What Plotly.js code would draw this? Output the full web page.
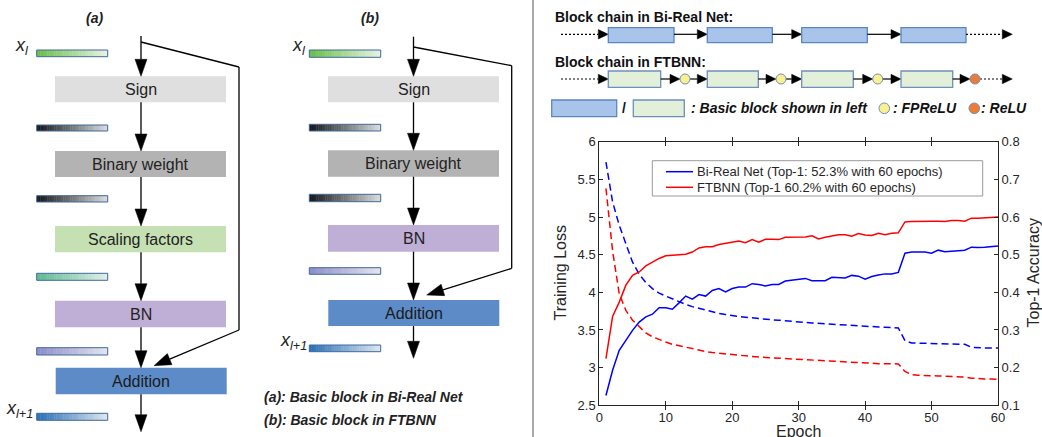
<!DOCTYPE html>
<html><head><meta charset="utf-8">
<script src="https://cdn.plot.ly/plotly-3.0.1.min.js"></script>
<style>html,body{margin:0;padding:0;background:#fff;overflow:hidden}</style>
</head><body><div id="chart" style="width:1042px;height:437px"></div>
<script>
// ---------------- data ----------------
const epochs = [1,2,3,4,5,6,7,8,9,10,11,12,13,14,15,16,17,18,19,20,21,22,23,24,25,26,27,28,29,30,
  31,32,33,34,35,36,37,38,39,40,41,42,43,44,45,46,47,48,49,50,51,52,53,54,55,56,57,58,59,60];
const birealAcc = [0.126,0.193,0.246,0.273,0.299,0.321,0.335,0.342,0.359,0.359,0.355,0.372,0.390,0.382,0.394,0.390,0.405,0.410,0.401,0.410,
  0.414,0.414,0.423,0.421,0.417,0.421,0.421,0.430,0.432,0.434,0.437,0.431,0.431,0.431,0.440,0.440,0.438,0.445,0.443,0.435,
  0.442,0.446,0.449,0.449,0.453,0.504,0.507,0.507,0.507,0.504,0.512,0.508,0.509,0.511,0.512,0.520,0.519,0.520,0.521,0.523];
const ftbnnAcc = [0.224,0.336,0.374,0.419,0.445,0.454,0.470,0.481,0.490,0.497,0.499,0.499,0.501,0.507,0.518,0.521,0.521,0.527,0.530,0.534,
  0.536,0.532,0.540,0.533,0.541,0.541,0.540,0.546,0.546,0.546,0.547,0.550,0.542,0.546,0.550,0.553,0.553,0.549,0.556,0.552,
  0.551,0.557,0.553,0.557,0.558,0.587,0.588,0.589,0.589,0.589,0.589,0.588,0.591,0.591,0.589,0.597,0.597,0.598,0.598,0.600];
const birealLoss = [5.73,5.20,4.89,4.63,4.40,4.24,4.13,4.05,3.99,3.95,3.91,3.87,3.84,3.81,3.785,3.76,3.74,3.72,3.705,3.69,
  3.68,3.67,3.66,3.65,3.64,3.635,3.63,3.625,3.62,3.61,3.60,3.593,3.587,3.58,3.573,3.566,3.562,3.558,3.553,3.549,
  3.545,3.54,3.537,3.535,3.527,3.36,3.327,3.325,3.323,3.321,3.319,3.317,3.314,3.312,3.31,3.27,3.261,3.261,3.26,3.26];
const ftbnnLoss = [5.38,4.55,3.98,3.76,3.63,3.54,3.46,3.41,3.37,3.34,3.31,3.29,3.265,3.245,3.23,3.215,3.20,3.19,3.18,3.17,
  3.16,3.155,3.15,3.14,3.135,3.13,3.125,3.12,3.115,3.106,3.10,3.093,3.088,3.084,3.08,3.075,3.07,3.066,3.062,3.058,
  3.055,3.053,3.053,3.051,3.049,2.95,2.907,2.90,2.894,2.892,2.889,2.887,2.885,2.88,2.876,2.86,2.852,2.85,2.848,2.845];
const seriesNames = ['Bi-Real Net (Top-1: 52.3% with 60 epochs)', 'FTBNN (Top-1 60.2% with 60 epochs)'];
const xTicks = [0,10,20,30,40,50,60];
const lossTicks = [2.5,3,3.5,4,4.5,5,5.5,6];
const accTicks = [0.1,0.2,0.3,0.4,0.5,0.6,0.7,0.8];

// ---------------- helpers (pixel -> paper) ----------------
const W = 1042, H = 437;
const FONT = 'Liberation Sans, Arial, sans-serif';
const X = x => x / W, Y = y => 1 - y / H;
const shapes = [], ann = [];
function rect(x0,y0,x1,y1,fill,lc,lw){
  shapes.push({type:'rect',xref:'paper',yref:'paper',x0:X(x0),x1:X(x1),y0:Y(y1),y1:Y(y0),
    fillcolor:fill,line:{color:lc||'rgba(0,0,0,0)',width:lw||0}});
}
function line(x0,y0,x1,y1,c,w,dash){
  shapes.push({type:'line',xref:'paper',yref:'paper',x0:X(x0),y0:Y(y0),x1:X(x1),y1:Y(y1),
    line:{color:c||'#000',width:w||1.3,dash:dash||'solid'}});
}
function poly(pts,fill){
  const d = 'M' + pts.map(p => X(p[0]).toFixed(5)+','+Y(p[1]).toFixed(5)).join(' L') + ' Z';
  shapes.push({type:'path',xref:'paper',yref:'paper',path:d,fillcolor:fill,line:{color:fill,width:0.5}});
}
function head(xf,yf,xt,yt,len,hw,c){
  const dx=xt-xf, dy=yt-yf, L=Math.hypot(dx,dy), ux=dx/L, uy=dy/L;
  const bx=xt-ux*len, by=yt-uy*len;
  poly([[xt,yt],[bx-uy*hw,by+ux*hw],[bx+uy*hw,by-ux*hw]], c||'#000');
  return [bx,by];
}
function arrow(x0,y0,x1,y1,len,hw,c,w,dash){
  const b = head(x0,y0,x1,y1,len,hw,c);
  line(x0,y0,b[0],b[1],c,w,dash);
}
function circ(cx,cy,r,fill,lc){
  shapes.push({type:'circle',xref:'paper',yref:'paper',x0:X(cx-r),x1:X(cx+r),y0:Y(cy+r),y1:Y(cy-r),
    fillcolor:fill,line:{color:lc,width:1}});
}
function txt(x,y,s,size,xa,color){
  ann.push({xref:'paper',yref:'paper',x:X(x),y:Y(y),text:s,showarrow:false,xanchor:xa||'center',yanchor:'middle',
    font:{family:FONT,size:size,color:color||'#222'}});
}
function hex2rgb(h){return [parseInt(h.substr(1,2),16),parseInt(h.substr(3,2),16),parseInt(h.substr(5,2),16)];}
function gradBar(x0,y0,x1,y1,c0,c1){
  const a=hex2rgb(c0), b=hex2rgb(c1), N=40, w=(x1-x0)/N;
  for(let i=0;i<N;i++){
    const t=(i+0.5)/N;
    const c='rgb('+a.map((v,k)=>Math.round(v+(b[k]-v)*t)).join(',')+')';
    rect(x0+i*w, y0, x0+(i+1)*w+0.4, y1, c);
  }
  rect(x0,y0,x1,y1,'rgba(0,0,0,0)','#3f6b9f',1);
}
const G = {green:['#68bd45','#e9f2e4'], dark:['#141414','#dcdcdc'], teal:['#5aba8c','#e4eeeb'],
           purple:['#8c8cc8','#e2e5ee'], blue:['#286eb4','#dee6ee']};
const AL = 17, AW = 6;

// ---------------- diagram (a) ----------------
txt(94.3,18.3,'<b><i>(a)</i></b>',14);
txt(22,46,'<i>x<sub>l</sub></i>',18);
txt(19.5,409,'<i>x<sub>l+1</sub></i>',18);
gradBar(36.7,50,107.7,56.7,...G.green);
gradBar(36.7,125,107.7,131,...G.dark);
gradBar(36.7,195.7,107.7,202,...G.dark);
gradBar(36.7,273.3,107.7,280.3,...G.teal);
gradBar(36.7,347.7,107.7,355,...G.purple);
gradBar(36.7,413.3,107.7,420.3,...G.blue);
const ax = 141;
rect(55,76.3,226,102.3,'#dfdfdf'); txt(140.5,89.3,'Sign',16);
rect(55,151,226,177,'#b3b3b3'); txt(140.5,164,'Binary weight',16);
rect(55,226,226,252.3,'#c5e0b3'); txt(140.5,239.2,'Scaling factors',16);
rect(55,300.7,226,327.3,'#bfaed5'); txt(140.5,314,'BN',16);
rect(55.7,367.7,226.7,394.3,'#5d8bc8'); txt(141,381,'Addition',16,'center','#1a1a1a');
arrow(ax,36,ax,76.3,AL,AW);
arrow(ax,102.3,ax,151,AL,AW);
arrow(ax,177,ax,226,AL,AW);
arrow(ax,252.3,ax,300.7,AL,AW);
arrow(ax,327.3,ax,367.7,AL,AW);
arrow(ax,394.3,ax,431.7,AL,AW);
line(ax,42,239,67); line(239,67,239,330);
arrow(239,330,154,365.7,AL,AW);

// ---------------- diagram (b) ----------------
txt(370,18,'<b><i>(b)</i></b>',14);
txt(299,46,'<i>x<sub>l</sub></i>',18);
txt(293,341,'<i>x<sub>l+1</sub></i>',18);
gradBar(309.3,50,380.7,57.3,...G.green);
gradBar(309.3,124.3,380.7,131,...G.dark);
gradBar(309.3,194.3,380.7,201.7,...G.dark);
gradBar(309.3,267.7,380.7,274.3,...G.purple);
gradBar(309.3,345,380.7,351.7,...G.blue);
const bx = 413.5;
rect(328,76.3,499,102.3,'#dfdfdf'); txt(413.5,89.3,'Sign',16);
rect(328,150.3,499,176.7,'#b3b3b3'); txt(413.5,163.5,'Binary weight',16);
rect(328,225,499,251.7,'#bfaed5'); txt(413.5,238.3,'BN',16);
rect(328.3,300,499.3,326,'#5d8bc8'); txt(413.8,313,'Addition',16,'center','#1a1a1a');
arrow(bx,36.7,bx,76.3,AL,AW);
arrow(bx,102.3,bx,150.3,AL,AW);
arrow(bx,176.7,bx,225,AL,AW);
arrow(bx,251.7,bx,300,AL,AW);
arrow(bx,326,bx,358.3,AL,AW);
line(bx,47,511.7,65.7); line(511.7,65.7,511.7,268.3);
arrow(511.7,268.3,426.7,295,AL,AW);
txt(262,396.7,'<b><i>(a): Basic block in Bi-Real Net</i></b>',14,'left');
txt(262,420,'<b><i>(b): Basic block in FTBNN</i></b>',14,'left');

// separator
line(533,0,533,437,'#555',1);

// ---------------- block chains ----------------
const BLUEF='#a9c4ea', BLUEL='#5b86c4', GRF='#e2efd9', GRL='#6d8fbf';
txt(553.3,16.7,'<b>Block chain in Bi-Real Net:</b>',14,'left','#111');
txt(553.3,61.7,'<b>Block chain in FTBNN:</b>',14,'left','#111');
const r1=34.3, r2=79;
arrow(561,r1,608.3,r1,10,4.7,'#000',1.2,'2px,2px');
rect(608.3,27.7,674,42.7,BLUEF,BLUEL,1.3);
arrow(674,r1,707.3,r1,10,4.7,'#000',1.2);
rect(707.3,27.7,772.3,42.7,BLUEF,BLUEL,1.3);
arrow(772.3,r1,801.7,r1,10,4.7,'#000',1.2);
rect(801.7,27.7,867.3,42.7,BLUEF,BLUEL,1.3);
arrow(867.3,r1,901,r1,10,4.7,'#000',1.2);
rect(901,27.7,966,42.7,BLUEF,BLUEL,1.3);
arrow(966,r1,1012.3,r1,10,4.7,'#000',1.2,'2px,2px');

arrow(561,r2,608.3,r2,10,4.7,'#000',1.2,'2px,2px');
const boxes2=[[608.3,660.7],[707.3,758.3],[801.7,853.3],[901,952.7]];
const circs2=[685,781,877.7,975];
const nexts=[707.3,801.7,901];
boxes2.forEach((b,i)=>{
  rect(b[0],71,b[1],87.3,GRF,GRL,1.3);
  arrow(b[1],r2,circs2[i]-5,r2,10,4.7,'#000',1.2);
  if(i<3){ arrow(circs2[i]+5,r2,nexts[i],r2,10,4.7,'#000',1.2); circ(circs2[i],r2,5,'#fbf18c',GRL); }
  else { arrow(circs2[i]+5,r2,1012.3,r2,10,4.7,'#000',1.2,'2px,2px'); circ(circs2[i],r2,5,'#ee7d31',GRL); }
});
rect(551.7,100,616.7,116.7,BLUEF,BLUEL,1.3);
txt(624.3,108.3,'<b>/</b>',14,'center','#111');
rect(633.3,100,684.3,116.7,GRF,GRL,1.3);
txt(689,108.3,'<b><i>: Basic block shown in left</i></b>',14,'left','#111');
circ(884.3,108.3,5.3,'#fbf18c',GRL);
txt(890.5,108.3,'<b><i>: FPReLU</i></b>',14,'left','#111');
circ(974.3,108.3,5.3,'#ee7d31',GRL);
txt(979.5,108.3,'<b><i>: ReLU</i></b>',14,'left','#111');

// ---------------- chart legend (manual) ----------------
rect(652.3,160.7,982.7,196,'#ffffff','#9a9a9a',1);
line(666,171.7,693,171.7,'#0000ff',1.5);
line(666,187.3,693,187.3,'#ff0000',1.5);
txt(695.3,171.7,seriesNames[0],13,'left','#262626');
txt(695.3,187.3,seriesNames[1],13,'left','#262626');

// chart axis titles
ann.push({xref:'paper',yref:'paper',x:X(560),y:Y(273.5),text:'Training Loss',textangle:-90,showarrow:false,
  xanchor:'center',yanchor:'middle',font:{family:FONT,size:16,color:'#262626'}});
ann.push({xref:'paper',yref:'paper',x:X(1033),y:Y(273.5),text:'Top-1 Accuracy',textangle:-90,showarrow:false,
  xanchor:'center',yanchor:'middle',font:{family:FONT,size:16,color:'#262626'}});
ann.push({xref:'paper',yref:'paper',x:X(798.6),y:Y(431),text:'Epoch',showarrow:false,
  xanchor:'center',yanchor:'middle',font:{family:FONT,size:16,color:'#262626'}});

// ---------------- traces ----------------
const traces = [
  {x:epochs,y:birealLoss,type:'scatter',mode:'lines',yaxis:'y',line:{color:'#0000ff',width:1.5,dash:'7px,4px'},showlegend:false,hoverinfo:'skip'},
  {x:epochs,y:ftbnnLoss,type:'scatter',mode:'lines',yaxis:'y',line:{color:'#ff0000',width:1.5,dash:'7px,4px'},showlegend:false,hoverinfo:'skip'},
  {x:epochs,y:birealAcc,type:'scatter',mode:'lines',yaxis:'y2',name:seriesNames[0],line:{color:'#0000ff',width:1.5},showlegend:false,hoverinfo:'skip'},
  {x:epochs,y:ftbnnAcc,type:'scatter',mode:'lines',yaxis:'y2',name:seriesNames[1],line:{color:'#ff0000',width:1.5},showlegend:false,hoverinfo:'skip'}
];
const axStyle = {ticks:'inside',ticklen:4,tickcolor:'#262626',showline:true,linecolor:'#262626',linewidth:1,
  showgrid:false,zeroline:false,tickfont:{family:FONT,size:13,color:'#262626'}};
const layout = {
  width:W,height:H,margin:{l:0,r:0,t:0,b:0},paper_bgcolor:'#fff',plot_bgcolor:'rgba(0,0,0,0)',
  font:{family:FONT},showlegend:false,
  xaxis:Object.assign({},axStyle,{domain:[X(599.3),X(998)],range:[0,60],tickvals:xTicks,mirror:'allticks',anchor:'y'}),
  yaxis:Object.assign({},axStyle,{domain:[Y(405.3),Y(141.7)],range:[2.5,6],tickvals:lossTicks,anchor:'x'}),
  yaxis2:Object.assign({},axStyle,{range:[0.1,0.8],tickvals:accTicks,overlaying:'y',side:'right',anchor:'x'}),
  shapes:shapes,annotations:ann
};
Plotly.newPlot('chart',traces,layout,{staticPlot:true,displayModeBar:false});
</script></body></html>
